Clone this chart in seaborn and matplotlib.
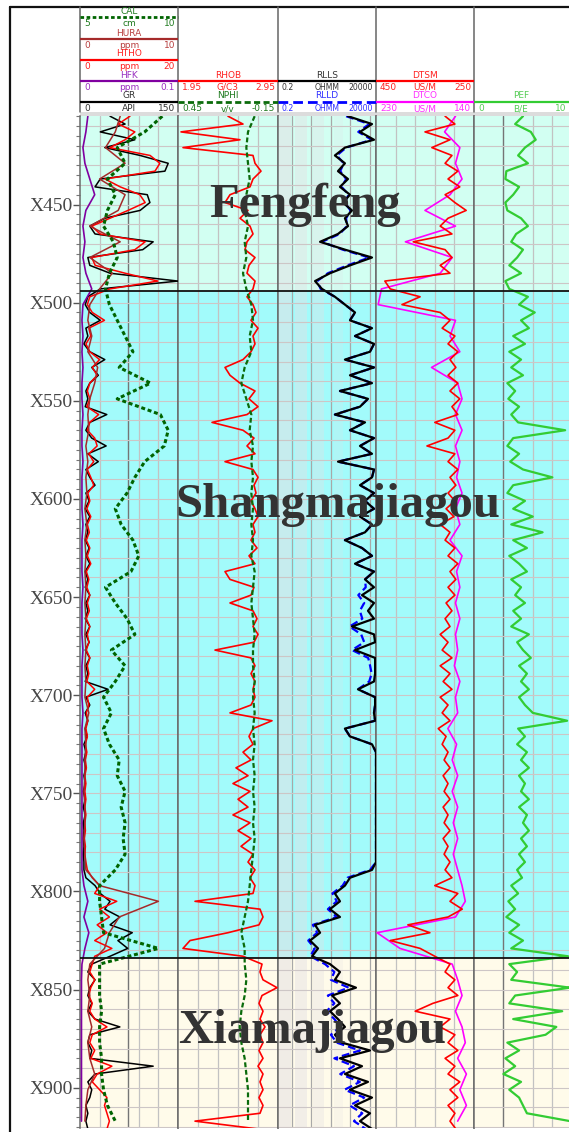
import numpy as np
import pandas as pd
import matplotlib
matplotlib.use("Agg")
import matplotlib.pyplot as plt
from matplotlib.ticker import MultipleLocator
from matplotlib.patches import Rectangle
import seaborn as sns

# ------------------------------------------------------------------ data
DEPTH_4 = np.arange(405, 922, 4)   # 130 samples
DEPTH_8 = np.arange(405, 922, 8)   # 65 samples

GR = [
    46, 69, 31, 84, 38, 92, 135, 130, 31, 23,
    103, 107, 92, 38, 15, 23, 112, 96, 12, 15,
    46, 150, 31, 12, 8, 15, 31, 9, 12, 6,
    15, 38, 18, 28, 15, 9, 12, 8, 41, 15,
    9, 18, 40, 12, 28, 9, 15, 23, 9, 14,
    8, 15, 9, 12, 8, 14, 9, 15, 8, 12,
    8, 15, 9, 12, 8, 15, 9, 14, 8, 15,
    9, 12, 8, 43, 9, 15, 8, 12, 8, 11,
    6, 9, 6, 9, 6, 8, 5, 8, 5, 8,
    5, 6, 5, 6, 5, 6, 6, 9, 23, 31,
    46, 38, 61, 46, 80, 58, 73, 46, 18, 12,
    23, 15, 12, 18, 12, 23, 61, 15, 12, 18,
    15, 112, 23, 12, 18, 15, 9, 12, 9, 12,
]
HTHO = [
    10.2, 7.8, 11.2, 9.2, 6.1, 14.3, 16.3, 15.3, 5.1, 8.2,
    12.2, 13.3, 9.8, 6.1, 2.4, 4.1, 13.3, 11.2, 2.4, 3.1,
    9.2, 15.9, 6.1, 2.0, 1.5, 2.5, 5.0, 1.8, 2.2, 1.2,
    2.0, 4.0, 2.5, 3.5, 2.0, 1.5, 2.0, 1.4, 3.8, 2.0,
    1.5, 3.0, 3.5, 1.8, 2.8, 1.5, 2.2, 2.8, 1.6, 2.0,
    1.4, 2.2, 1.5, 1.9, 1.3, 2.0, 1.5, 2.2, 1.3, 1.8,
    1.4, 2.0, 1.5, 1.9, 1.3, 2.0, 1.5, 1.8, 1.3, 2.0,
    1.5, 1.8, 1.4, 3.0, 1.5, 1.8, 1.3, 1.6, 1.2, 1.5,
    1.1, 1.4, 1.1, 1.3, 1.0, 1.2, 1.0, 1.2, 1.0, 1.2,
    1.0, 1.1, 0.9, 1.1, 1.0, 1.2, 1.5, 2.5, 4.0, 3.0,
    7.5, 4.0, 6.0, 3.5, 5.5, 3.0, 6.5, 3.0, 2.5, 2.0,
    3.0, 2.2, 1.8, 2.5, 2.0, 3.0, 5.5, 2.5, 2.0, 3.0,
    2.2, 6.5, 3.5, 2.5, 4.0, 5.5, 5.0, 5.5, 6.0, 5.5,
]
HURA = [
    4.1, 3.6, 2.6, 4.6, 2.0, 4.6, 3.9, 1.0, 4.1, 1.0,
    3.3, 2.0, 1.0, 0.8, 1.2, 0.8, 1.8, 1.5, 1.0, 0.8,
    0.9, 0.6, 0.8, 0.6, 0.7, 0.5, 0.7, 0.5, 0.6, 0.5,
    0.6, 0.5, 0.6, 0.5, 0.6, 0.5, 0.6, 0.5, 0.9, 0.5,
    0.6, 0.5, 0.5, 0.4, 0.5, 0.5, 0.4, 0.5, 0.6, 2.0,
    8.0, 4.0, 3.0, 2.5, 1.0, 0.8, 1.0, 0.8, 1.2, 0.8,
    1.0, 1.5, 0.8, 0.6, 0.5,
]
HFK = [
    0.008, 0.006, 0.003, 0.005, 0.010, 0.015, 0.006, 0.003, 0.005, 0.003,
    0.006, 0.012, 0.003, 0.002, 0.003, 0.002, 0.003, 0.002, 0.002, 0.003,
    0.002, 0.002, 0.003, 0.002, 0.002, 0.002, 0.003, 0.002, 0.002, 0.002,
    0.003, 0.002, 0.002, 0.002, 0.003, 0.002, 0.002, 0.002, 0.003, 0.002,
    0.002, 0.002, 0.002, 0.002, 0.002, 0.002, 0.002, 0.002, 0.002, 0.004,
    0.008, 0.004, 0.009, 0.005, 0.002, 0.0015, 0.0015, 0.0015, 0.0015, 0.0015,
    0.0015, 0.0015, 0.0015, 0.0015, 0.0015,
]
CAL = [
    9.2, 8.3, 6.9, 7.3, 6.4, 6.8, 6.4, 6.2, 6.7, 6.9,
    6.5, 6.3, 6.5, 6.9, 7.3, 7.7, 7.0, 8.6, 6.9, 9.1,
    9.5, 9.3, 8.3, 7.8, 7.4, 6.8, 7.1, 7.7, 8.0, 7.6,
    6.3, 6.8, 7.4, 7.8, 6.6, 7.3, 6.8, 6.2, 6.6, 6.2,
    6.5, 7.0, 6.9, 7.3, 7.1, 7.3, 7.2, 7.3, 6.8, 6.0,
    6.0, 6.1, 6.2, 9.0, 6.0, 6.0, 6.0, 6.1, 6.0, 6.0,
    6.1, 6.1, 6.2, 6.4, 6.8,
]
RHOB = [
    2.45, 2.60, 1.98, 2.57, 2.00, 2.70, 2.72, 2.78, 2.70, 2.67,
    2.47, 2.42, 2.65, 2.57, 2.67, 2.70, 2.64, 2.62, 2.72, 2.66,
    2.64, 2.72, 2.70, 2.64, 2.70, 2.73, 2.68, 2.75, 2.70, 2.72,
    2.68, 2.60, 2.42, 2.47, 2.57, 2.72, 2.66, 2.75, 2.64, 2.29,
    2.60, 2.71, 2.64, 2.72, 2.42, 2.70, 2.75, 2.71, 2.73, 2.68,
    2.72, 2.75, 2.70, 2.72, 2.68, 2.74, 2.66, 2.72, 2.42, 2.47,
    2.71, 2.68, 2.47, 2.70, 2.74, 2.70, 2.75, 2.71, 2.32, 2.68,
    2.72, 2.68, 2.72, 2.70, 2.72, 2.68, 2.47, 2.89, 2.70, 2.66,
    2.70, 2.60, 2.68, 2.53, 2.65, 2.50, 2.67, 2.55, 2.65, 2.50,
    2.67, 2.55, 2.68, 2.58, 2.70, 2.65, 2.72, 2.67, 2.72, 2.70,
    2.12, 2.77, 2.80, 2.76, 2.45, 2.07, 2.00, 2.60, 2.79, 2.77,
    2.80, 2.94, 2.79, 2.76, 2.80, 2.77, 2.82, 2.77, 2.80, 2.76,
    2.80, 2.75, 2.80, 2.77, 2.80, 2.76, 2.80, 2.77, 2.12, 2.75,
]
NPHI = [
    -0.01, 0.03, 0.04, 0.03, 0.02, 0.04, 0.05, 0.03, 0.05, 0.04,
    0.06, 0.04, 0.01, 0.00, 0.02, 0.01, 0.05, 0.07, 0.04, 0.01,
    0.02, 0.00, 0.01, 0.00, 0.01, 0.00, 0.01, 0.00, 0.01, -0.01,
    0.00, 0.01, 0.00, -0.01, 0.00, 0.00, -0.01, 0.00, -0.01, 0.00,
    -0.01, 0.00, -0.01, 0.00, -0.01, 0.00, -0.01, 0.00, 0.01, 0.02,
    0.03, 0.05, 0.07, 0.05, 0.05, 0.04, 0.05, 0.07, 0.08, 0.07,
    0.05, 0.04, 0.03, 0.03, 0.03,
]
RLLS = [
    745, 12500, 3050, 15800, 520, 160, 520, 230, 745, 290,
    940, 410, 1190, 520, 745, 230, 28, 520, 12500, 940,
    90, 15.5, 35, 160, 520, 1700, 940, 12500, 1700, 15800,
    9900, 520, 15800, 940, 12500, 290, 7800, 3050, 160, 5500,
    940, 15800, 3050, 12500, 230, 15800, 12500, 3050, 15800, 5500,
    15800, 3050, 12500, 5500, 520, 3860, 12500, 1700, 15800, 5500,
    15800, 3860, 15800, 7800, 15800, 1190, 15800, 18000, 1700, 18000,
    18000, 18000, 15800, 2410, 18000, 18000, 15800, 18000, 520, 940,
    12500, 20000, 20000, 20000, 20000, 20000, 20000, 20000, 20000, 20000,
    20000, 20000, 20000, 20000, 20000, 20000, 12500, 940, 520, 160,
    290, 90, 290, 15.5, 28, 8.6, 22, 11, 90, 290,
    160, 1900, 115, 290, 90, 230, 520, 160, 360, 9900,
    290, 3860, 520, 7800, 940, 12500, 1700, 9900, 3050, 12500,
]
RLLD = [
    600, 9000, 2500, 12000, 600, 200, 450, 300, 600, 350,
    800, 500, 1000, 600, 650, 280, 35, 400, 9000, 700,
    70, 20, 30, 160, 520, 1700, 940, 12500, 1700, 15800,
    9900, 520, 15800, 940, 12500, 290, 7800, 3050, 160, 5500,
    940, 15800, 3050, 12500, 230, 15800, 12500, 3050, 15800, 5500,
    15800, 3050, 12500, 5500, 520, 3860, 12500, 1700, 15800, 5500,
    6000, 2500, 5000, 3000, 4000, 900, 3500, 5000, 1200, 8000,
    10000, 12000, 9000, 2410, 18000, 18000, 15800, 18000, 520, 940,
    12500, 20000, 20000, 20000, 20000, 20000, 20000, 20000, 20000, 20000,
    20000, 20000, 20000, 20000, 20000, 20000, 10000, 700, 400, 120,
    200, 70, 200, 12, 20, 7, 15, 9, 50, 150,
    100, 800, 70, 150, 60, 150, 300, 100, 200, 3000,
    150, 1500, 300, 3000, 500, 5000, 900, 4000, 1500, 6000,
]
DTSM = [
    309, 289, 350, 299, 336, 295, 309, 283, 303, 279,
    309, 289, 266, 303, 319, 295, 374, 309, 295, 319,
    299, 432, 421, 360, 397, 319, 299, 315, 289, 303,
    283, 299, 287, 303, 283, 299, 279, 295, 283, 330,
    289, 303, 346, 289, 303, 283, 299, 287, 303, 289,
    307, 291, 319, 299, 309, 289, 303, 283, 299, 287,
    303, 289, 307, 295, 309, 299, 319, 303, 315, 295,
    319, 299, 313, 295, 319, 303, 315, 299, 323, 307,
    315, 303, 311, 299, 313, 303, 311, 299, 313, 303,
    311, 299, 313, 303, 311, 299, 309, 295, 330, 283,
    299, 274, 303, 385, 340, 421, 360, 330, 299, 309,
    289, 303, 283, 334, 370, 299, 319, 289, 303, 283,
    309, 289, 303, 279, 299, 283, 303, 289, 299, 287,
]
DTCO = [
    157, 167, 153, 157, 151, 162, 185, 157, 203, 160,
    171, 225, 228, 157, 162, 153, 179, 155, 151, 157,
    151, 157, 153, 156, 151, 157, 153, 162, 151, 156,
    153, 157, 153, 157, 155, 158, 153, 157, 155, 164,
    156, 160, 155, 160, 155, 159, 155, 159, 155, 151,
    148, 157, 229, 208, 160, 155, 151, 157, 151, 148,
    155, 147, 153, 147, 155,
]
PEF = [
    5.0, 4.2, 5.8, 6.3, 5.2, 4.5, 5.5, 3.3, 3.2, 4.6,
    4.0, 3.2, 3.4, 4.8, 5.5, 4.3, 3.8, 5.0, 4.4, 3.6,
    4.8, 3.2, 3.6, 5.5, 4.6, 6.2, 4.8, 5.6, 4.0, 5.2,
    3.6, 4.8, 3.8, 5.0, 3.4, 4.2, 3.5, 4.6, 3.8, 4.5,
    9.3, 4.0, 3.4, 4.6, 3.7, 5.0, 8.0, 4.0, 3.4, 5.2,
    4.0, 6.0, 3.8, 7.0, 4.0, 5.4, 3.6, 4.6, 5.4, 3.8,
    4.8, 4.2, 5.2, 4.0, 4.8, 3.8, 5.6, 4.4, 5.0, 5.8,
    4.6, 5.4, 4.8, 5.6, 4.6, 5.2, 6.0, 9.5, 4.5, 5.2,
    4.4, 5.4, 4.8, 5.6, 4.6, 5.2, 4.8, 5.6, 4.6, 5.4,
    5.0, 5.6, 4.8, 5.4, 4.6, 5.2, 4.4, 4.9, 3.8, 4.5,
    3.5, 4.2, 3.3, 4.6, 3.6, 5.0, 3.8, 9.6, 3.6, 4.4,
    3.8, 9.8, 4.2, 3.6, 9.0, 4.0, 8.4, 7.3, 3.4, 4.6,
    3.2, 4.2, 3.0, 4.8, 3.6, 4.6, 5.0, 5.4, 9.8, 9.8,
]

CURVE_NAMES = ["CAL", "HURA", "HTHO", "HFK", "GR", "RHOB", "NPHI",
               "RLLS", "RLLD", "DTSM", "DTCO", "PEF"]
CURVE_UNITS = ["cm", "ppm", "ppm", "ppm", "API", "G/C3", "v/v",
               "OHMM", "OHMM", "US/M", "US/M", "B/E"]
SCALE_LEFT = [5, 0, 0, 0, 0, 1.95, 0.45, 0.2, 0.2, 450, 230, 0]
SCALE_RIGHT = [10, 10, 20, 0.1, 150, 2.95, -0.15, 20000, 20000, 250, 140, 10]

ZONE_NAMES = ["Fengfeng", "Shangmajiagou", "Xiamajiagou"]
ZONE_TOPS = [404.9, 494, 834]
ZONE_BASES = [494, 834, 920.5]

DEPTH_TICKS = [450, 500, 550, 600, 650, 700, 750, 800, 850, 900]
DEPTH_LABELS = ["X450", "X500", "X550", "X600", "X650", "X700",
                "X750", "X800", "X850", "X900"]

# ------------------------------------------------------------------ style
sns.set_theme(style="white")
plt.rcParams["font.family"] = ["DejaVu Sans"]

W, H = 569, 1132
Y_TOP, Y_BOT = 116, 1128
D_TOP, D_BOT = ZONE_TOPS[0], ZONE_BASES[-1]
TRACK_X = [(80, 178), (178, 278), (278, 376), (376, 474), (474, 572)]
ZONE_COLORS = ["#d2fff2", "#a2fbfb", "#fffbea"]

STYLE = {
    #        track row color      text color  lw   linestyle
    "CAL":  (0, 0, "#006400", "#1f7a1f", 2.2, (0, (1.3, 0.9))),
    "HURA": (0, 1, "#a52a2a", "#b84040", 1.1, "-"),
    "HTHO": (0, 2, "#ff0000", "#ff2020", 1.1, "-"),
    "HFK":  (0, 3, "#8000a0", "#9a30c0", 1.2, "-"),
    "GR":   (0, 4, "#000000", "#333333", 1.1, "-"),
    "RHOB": (1, 3, "#ff0000", "#ff2020", 1.2, "-"),
    "NPHI": (1, 4, "#0b6b0b", "#1f7a1f", 1.6, (0, (2.2, 1.2))),
    "RLLS": (2, 3, "#000000", "#333333", 1.6, "-"),
    "RLLD": (2, 4, "#0000ff", "#3030ff", 1.6, (0, (3.5, 1.8))),
    "DTSM": (3, 3, "#ff0000", "#ff2020", 1.2, "-"),
    "DTCO": (3, 4, "#ff00ff", "#ff30ff", 1.2, "-"),
    "PEF":  (4, 4, "#33cc33", "#55cc55", 1.6, "-"),
}
CURVE_DATA = {
    "GR": (DEPTH_4, GR), "HTHO": (DEPTH_4, HTHO), "HURA": (DEPTH_8, HURA),
    "HFK": (DEPTH_8, HFK), "CAL": (DEPTH_8, CAL),
    "RHOB": (DEPTH_4, RHOB), "NPHI": (DEPTH_8, NPHI),
    "RLLD": (DEPTH_4, RLLD), "RLLS": (DEPTH_4, RLLS),
    "DTCO": (DEPTH_8, DTCO), "DTSM": (DEPTH_4, DTSM),
    "PEF": (DEPTH_4, PEF),
}
DRAW_ORDER = ["GR", "HTHO", "HURA", "HFK", "CAL", "RHOB", "NPHI",
              "RLLD", "RLLS", "DTCO", "DTSM", "PEF"]

fig = plt.figure(figsize=(W / 100, H / 100), dpi=100)
fig.patch.set_facecolor("white")


def rect(x0, x1, y0=Y_TOP, y1=Y_BOT):
    return [x0 / W, 1 - y1 / H, (x1 - x0) / W, (y1 - y0) / H]


# ----------------------------------------------------- frame + header axes
hx = fig.add_axes([0, 0, 1, 1])
hx.set_xlim(0, W)
hx.set_ylim(H, 0)
hx.set_axis_off()
hx.plot([10, 10], [7, H], color="#111111", lw=1.6)
hx.plot([10, W], [7, 7], color="#111111", lw=1.6)
hx.add_patch(Rectangle((80, 112), W - 80, 5, color="#dcdcdc", lw=0))
for xs in [80, 178, 278, 376, 474]:
    hx.plot([xs, xs], [7, 112], color="#666666", lw=1.1)

ROW_Y = [17, 39, 60, 81, 102]
for k, name in enumerate(CURVE_NAMES):
    t, r, col, tcol, lw, ls = STYLE[name]
    x0, x1 = TRACK_X[t]
    xc = (x0 + x1) / 2 if t < 4 else 521
    yl = ROW_Y[r]
    hx.plot([x0, x1], [yl, yl], color=col, lw=1.6 if ls == "-" else 2.0,
            linestyle=ls, solid_capstyle="butt")
    hx.text(xc, yl - 1.5, name, ha="center", va="bottom", fontsize=6.5,
            color=tcol)
    fs = 5.6 if t == 2 else 6.5
    hx.text(x0 + 4, yl + 6.5, str(SCALE_LEFT[k]), ha="left", va="center",
            fontsize=fs, color=tcol)
    hx.text(xc, yl + 6.5, CURVE_UNITS[k], ha="center", va="center",
            fontsize=fs, color=tcol)
    hx.text(min(x1, 569) - 3, yl + 6.5, str(SCALE_RIGHT[k]), ha="right",
            va="center", fontsize=fs, color=tcol)

# ------------------------------------------------------------ track bases
LIGHT = "#c2c2c2"
DARK = "#757575"
VLINES = [
    ([0.2, 0.6, 0.8], [0.49]),
    ([0.2, 0.4, 0.6, 0.8], []),
    (None, None),
    ([0.2, 0.4, 0.6, 0.8], []),
    ([0.6, 0.8], [0.3]),
]
bases = []
for t, (x0, x1) in enumerate(TRACK_X):
    ax = fig.add_axes(rect(x0, x1))
    ax.set_ylim(D_BOT, D_TOP)
    for z in range(len(ZONE_NAMES)):
        ax.axhspan(ZONE_TOPS[z], ZONE_BASES[z], color=ZONE_COLORS[z], lw=0,
                   zorder=0)
    if t == 2:
        ax.set_xscale("log")
        ax.set_xlim(0.2, 20000)
        for a, b, al in [(0.22, 0.9, 0.55), (1.4, 6, 0.45), (12, 45, 0.35),
                         (150, 400, 0.2)]:
            ax.axvspan(a, b, color="#e4e0e4", alpha=al, lw=0, zorder=0.5)
        for v in [1, 10, 100, 1000, 10000]:
            ax.axvline(v, color="#a8a8a8", lw=0.9, zorder=1)
    else:
        ax.set_xlim(0, 1)
        light, dark = VLINES[t]
        for v in light:
            ax.axvline(v, color=LIGHT, lw=0.9, zorder=1)
        for v in dark:
            ax.axvline(v, color=DARK, lw=1.0, zorder=1)
    for d in range(410, 921, 10):
        ax.axhline(d, color="#cdc6c6", lw=0.8, zorder=1)
    ax.set_xticks([])
    for s in ["top", "bottom"]:
        ax.spines[s].set_visible(False)
    for s in ["left", "right"]:
        ax.spines[s].set_color("#6a6a6a")
        ax.spines[s].set_linewidth(1.1)
    if t == 0:
        ax.set_yticks(DEPTH_TICKS)
        ax.set_yticklabels(DEPTH_LABELS, fontfamily="Liberation Serif",
                           fontsize=14, color="#474747")
        ax.yaxis.set_minor_locator(MultipleLocator(5))
        ax.tick_params(axis="y", which="major", length=5, width=1,
                       color="#555555", pad=0, left=True)
        ax.tick_params(axis="y", which="minor", length=3, width=0.8,
                       color="#777777", left=True)
    else:
        ax.set_yticks([])
    bases.append(ax)

# ----------------------------------------------------------------- curves
for name in DRAW_ORDER:
    k = CURVE_NAMES.index(name)
    t, r, col, tcol, lw, ls = STYLE[name]
    x0, x1 = TRACK_X[t]
    ax = fig.add_axes(rect(x0, x1))
    if t == 2:
        ax.set_xscale("log")
    depth, vals = CURVE_DATA[name]
    df = pd.DataFrame({"depth": depth, "value": vals})
    sns.lineplot(data=df, x="value", y="depth", orient="y", sort=False,
                 estimator=None, color=col, lw=lw, linestyle=ls, ax=ax)
    ax.set_xlim(SCALE_LEFT[k], SCALE_RIGHT[k])
    ax.set_ylim(D_BOT, D_TOP)
    ax.set_axis_off()

# --------------------------------------------------- overlay: zones/texts
ov = fig.add_axes(rect(80, 572))
ov.set_xlim(80, 572)
ov.set_ylim(D_BOT, D_TOP)
ov.set_axis_off()
for d in ZONE_TOPS[1:]:
    ov.axhline(d, color="#111111", lw=1.3)
ZONE_TEXT_POS = [(305, 456.4), (338, 609.2), (312, 877.2)]
for name, (xp, dp) in zip(ZONE_NAMES, ZONE_TEXT_POS):
    ov.text(xp, dp, name, ha="center", va="baseline", fontsize=35,
            fontweight="bold", fontfamily="Liberation Serif",
            color="#333333")

fig.savefig("out.png", dpi=100)
